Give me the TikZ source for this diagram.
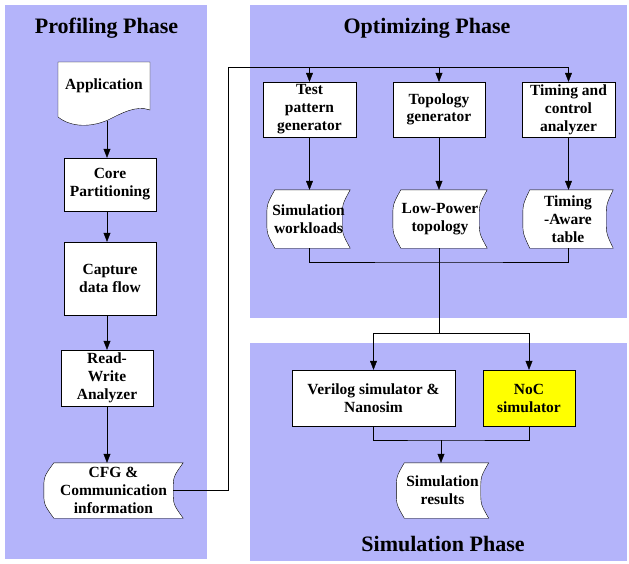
\documentclass[tikz,border=0pt]{standalone}
\usepackage{fontspec}
\setmainfont{Liberation Serif}
\usetikzlibrary{arrows.meta,calc}
\definecolor{phase}{RGB}{180,180,250}
\definecolor{nocyellow}{RGB}{255,255,0}
\pgfdeclarelayer{canvas}
\pgfdeclarelayer{panel}
\pgfdeclarelayer{outline}
\pgfsetlayers{canvas,panel,outline,main}

\begin{document}
\begin{tikzpicture}[x=1pt,y=-1pt,
  line width=0.8pt,
  lbl/.style={font=\fontsize{15.5}{18}\selectfont\bfseries, align=center, inner sep=0pt},
  box/.style={lbl, draw, fill=white},
  stored/.style={lbl},
  title/.style={font=\fontsize{22}{26}\selectfont\bfseries, inner sep=0pt, anchor=base},
  arr/.style={-{Triangle[length=9pt,width=7pt]}}
]
\begin{pgfonlayer}{canvas}
  \fill[white] (0,0) rectangle (629,563);
\end{pgfonlayer}
\useasboundingbox (0,0) rectangle (629,563);

% phase panels
\begin{pgfonlayer}{panel}
  \fill[phase] (5,5) rectangle (207,559);
  \fill[phase] (250,5) rectangle (627,318);
  \fill[phase] (250,343) rectangle (627,561);
\end{pgfonlayer}

% titles
\node[title] (ptitle) at (106.5,33) {Profiling Phase};
\node[title] (otitle) at (427,33) {Optimizing Phase};
\node[title] (stitle) at (443,551) {Simulation Phase};

% profiling phase
\node[stored, minimum width=92, minimum height=48] (app) at (104,86) {Application};
\node[box, minimum width=92, minimum height=53] (core) at (110,184.5) {Core\\Partitioning};
\node[box, minimum width=92, minimum height=73] (capture) at (110,278.5) {Capture\\data flow};
\node[box, minimum width=92, minimum height=56] (rw) at (107,378) {Read-\\Write\\Analyzer};
\node[stored, minimum width=139, minimum height=55] (cfg) at (113.5,490.5) {CFG \&\\Communication\\information};

% optimizing phase
\node[box, minimum width=93, minimum height=55] (tpg) at (309.5,109.5) {Test\\pattern\\generator};
\node[box, minimum width=92, minimum height=55] (topo) at (439,109.5) {\raisebox{4pt}{\begin{tabular}{@{}c@{}}Topology\\[-1pt]generator\end{tabular}}};
\node[box, minimum width=93, minimum height=55] (tca) at (568.5,109.5) {Timing and\\control\\analyzer};
\node[stored, minimum width=83, minimum height=58] (sw) at (308.5,219) {Simulation\\workloads};
\node[stored, minimum width=94, minimum height=58] (lp) at (440,219) {Low-Power\\topology};
\node[stored, minimum width=90, minimum height=58] (tat) at (568,219) {Timing\\-Aware\\table};

% simulation phase
\node[box, minimum width=163, minimum height=56] (ver) at (373.5,398) {Verilog simulator \&\\Nanosim};
\node[box, fill=nocyellow, minimum width=92, minimum height=56] (noc) at (529,398) {NoC\\simulator};
\node[stored, minimum width=92, minimum height=55] (res) at (442.5,490.5) {Simulation\\results};

% outlines of the document and stored-data symbols
\begin{pgfonlayer}{outline}
  \draw[fill=white] (58,117) -- (58,62) -- (150,62) -- (150,110)
    .. controls (136,105) and (122,113) .. (108,120)
    .. controls (92,127) and (72,128) .. (58,117) -- cycle;
  \foreach \n/\d in {cfg/10,sw/8,lp/8,tat/7,res/8}{
    \draw[fill=white] ($(\n.north west)+(\d,0)$) -- (\n.north east)
      .. controls ($(\n.north east)!0.5!(\n.east)+(-\d,0)$) .. ($(\n.east)+(-\d,0)$)
      .. controls ($(\n.east)!0.5!(\n.south east)+(-\d,0)$) .. (\n.south east)
      -- ($(\n.south west)+(\d,0)$)
      .. controls ($(\n.south west)!0.5!(\n.west)$) .. (\n.west)
      .. controls ($(\n.west)!0.5!(\n.north west)$) .. ($(\n.north west)+(\d,0)$)
      -- cycle;
  }
\end{pgfonlayer}

% profiling flow
\coordinate (spine) at (107,0);
\coordinate (appbot) at (107,121);
\draw[arr] (appbot) -- (core.north -| spine);
\draw[arr] (core.south -| spine) -- (capture.north -| spine);
\draw[arr] (capture.south -| spine) -- (rw.north -| spine);
\draw[arr] (rw.south -| spine) -- (cfg.north -| spine);

% CFG feeds the optimizing phase
\coordinate (cfgout) at ($(cfg.east)+(-10,0)$);
\coordinate (busL) at (228,67);
\draw (cfgout) -| (busL) -- (busL -| tca.north);
\draw[arr] (busL -| tpg.north) -- (tpg.north);
\draw[arr] (busL -| topo.north) -- (topo.north);
\draw[arr] (busL -| tca.north) -- (tca.north);

% generators to their outputs
\draw[arr] (tpg.south) -- (tpg.south |- sw.north);
\draw[arr] (topo.south) -- (topo.south |- lp.north);
\draw[arr] (tca.south) -- (tca.south |- tat.north);

% outputs merge and feed the simulators
\coordinate (merge) at (439,262);
\coordinate (split) at (439,333);
\draw (tpg.south |- sw.south) |- (merge) -| (tca.south |- tat.south);
\draw (topo.south |- lp.south) -- (split);
\draw[arr] (split) -| (ver.north);
\draw[arr] (split) -| (noc.north);

% simulators to results
\coordinate (join) at (441,440);
\draw (ver.south) |- (join) -| (noc.south);
\draw[arr] (join) -- (join |- res.north);
\end{tikzpicture}
\end{document}
